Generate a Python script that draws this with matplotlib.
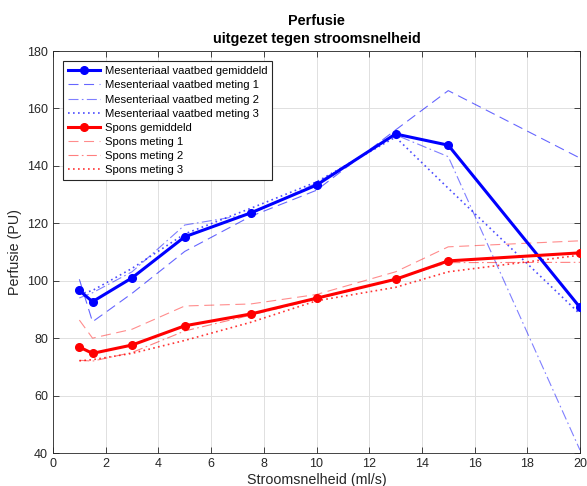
import matplotlib
matplotlib.use("Agg")
import matplotlib.pyplot as plt

plt.rcParams['font.family'] = ['Liberation Sans', 'DejaVu Sans']

flow = [1, 1.5, 3, 5, 7.5, 10, 13, 15, 20]

mes_mean = [96.6, 92.7, 101.0, 115.3, 123.6, 133.3, 151.1, 147.2, 90.7]
mes_m1 = [100.5, 85.7, 95.6, 110.2, 122.4, 131.5, 152.5, 166.2, 142.7]
mes_m2 = [94.0, 95.8, 103.1, 119.4, 123.2, 134.0, 150.8, 143.2, 41.0]
mes_m3 = [95.3, 96.6, 104.3, 116.3, 125.2, 134.4, 150.0, 132.2, 88.4]

sp_mean = [76.9, 74.7, 77.6, 84.3, 88.4, 93.9, 100.5, 106.9, 109.7]
sp_m1 = [86.3, 80.0, 83.1, 91.2, 91.9, 95.2, 103.1, 111.8, 113.9]
sp_m2 = [72.3, 72.0, 75.0, 82.5, 88.0, 93.6, 100.7, 106.3, 106.4]
sp_m3 = [72.1, 72.5, 74.7, 79.2, 85.5, 93.0, 97.7, 103.1, 108.9]

labels = ['Mesenteriaal vaatbed gemiddeld', 'Mesenteriaal vaatbed meting 1',
          'Mesenteriaal vaatbed meting 2', 'Mesenteriaal vaatbed meting 3',
          'Spons gemiddeld', 'Spons meting 1', 'Spons meting 2', 'Spons meting 3']

fig = plt.figure(figsize=(5.87, 4.86), dpi=100)
ax = fig.add_axes([53/587, 1-453/486, (580-53)/587, (453-51)/486])

blue = (0, 0, 1)
red = (1, 0, 0)
ax.plot(flow, mes_mean, '-o', color=blue, lw=2.2, ms=5.5, label=labels[0], zorder=5)
ax.plot(flow, mes_m1, color=blue, lw=0.8, alpha=0.6, dashes=(9, 5), label=labels[1])
ax.plot(flow, mes_m2, color=blue, lw=0.8, alpha=0.5, dashes=(9, 3, 1.5, 3), label=labels[2])
ax.plot(flow, mes_m3, color=blue, lw=1.2, alpha=0.7, dashes=(1, 2), label=labels[3])
ax.plot(flow, sp_mean, '-o', color=red, lw=2.2, ms=5.5, label=labels[4], zorder=5)
ax.plot(flow, sp_m1, color=red, lw=0.8, alpha=0.45, dashes=(9, 5), label=labels[5])
ax.plot(flow, sp_m2, color=red, lw=0.8, alpha=0.5, dashes=(9, 3, 1.5, 3), label=labels[6])
ax.plot(flow, sp_m3, color=red, lw=1.2, alpha=0.8, dashes=(1, 2), label=labels[7])

ax.set_xlim(0, 20)
ax.set_ylim(40, 180)
ax.set_xticks(range(0, 21, 2))
ax.set_yticks(range(40, 181, 20))
ax.grid(True, color=(0.88, 0.88, 0.88), lw=0.7)
ax.set_axisbelow(True)
ax.tick_params(direction='in', top=True, right=True, labelsize=9,
               colors=(0.15, 0.15, 0.15), length=4, width=0.6)
for s in ax.spines.values():
    s.set_color((0.15, 0.15, 0.15))
    s.set_linewidth(0.6)

ax.set_xlabel('Stroomsnelheid (ml/s)', fontsize=10.3, color=(0.15, 0.15, 0.15), labelpad=2)
ax.set_ylabel('Perfusie (PU)', fontsize=10.3, color=(0.15, 0.15, 0.15), labelpad=4)
ax.set_title('Perfusie\nuitgezet tegen stroomsnelheid', fontsize=10.4, fontweight='bold',
             linespacing=1.3, pad=6)

leg = ax.legend(loc='upper left', fontsize=8.1, frameon=True, fancybox=False,
                handlelength=2.85, handletextpad=0.4, labelspacing=0.37,
                borderpad=0.45, borderaxespad=0.9)
leg.get_frame().set_edgecolor((0.15, 0.15, 0.15))
leg.get_frame().set_linewidth(0.8)
leg.get_frame().set_alpha(1)

fig.savefig('out.png', dpi=100)
